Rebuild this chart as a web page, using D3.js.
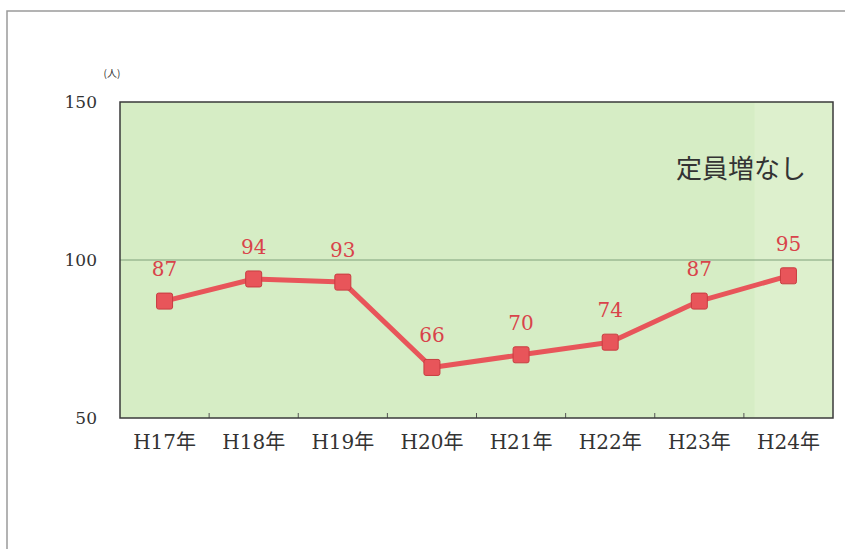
<!DOCTYPE html>
<html><head><meta charset="utf-8">
<script src="https://cdn.jsdelivr.net/npm/d3@7"></script>
<style>body{margin:0;background:#fff}svg{display:block}</style>
</head><body>
<svg id="c" width="845" height="550"></svg>
<script>
const categories = ["H17年","H18年","H19年","H20年","H21年","H22年","H23年","H24年"];
const values = [87,94,93,66,70,74,87,95];
const yTicks = [50,100,150];
const unitLabel = "(人)";
const note = "定員増なし";

const svg = d3.select("#c");
const m = {l:120, t:102, r:833, b:418};
const x = d3.scaleBand().domain(categories).range([m.l, m.r]);
const y = d3.scaleLinear().domain([50,150]).range([m.b, m.t]);
const serif = "'DejaVu Serif', 'Noto Sans CJK JP', serif";

// outer frame
svg.append("path").attr("d","M7,549 L7,11 L845,11").attr("fill","none").attr("stroke","#9a9a9a").attr("stroke-width",1.5);

// plot background
svg.append("rect").attr("x",m.l).attr("y",m.t).attr("width",m.r-m.l).attr("height",m.b-m.t).attr("fill","#d6edc5");
const x2 = x("H24年") + x.bandwidth()*0.12;
svg.append("rect").attr("x",x2).attr("y",m.t).attr("width",m.r-x2).attr("height",m.b-m.t).attr("fill","#ddf0cd");

// gridline at 100
svg.append("line").attr("x1",m.l).attr("x2",m.r).attr("y1",y(100)).attr("y2",y(100)).attr("stroke","#7fa07a").attr("stroke-width",1);

// y axis
const yAxis = d3.axisLeft(y).tickValues(yTicks).tickSize(0).tickPadding(23);
const ga = svg.append("g").attr("transform",`translate(${m.l},0)`).call(yAxis);
ga.select(".domain").remove();
ga.attr("font-family",serif).attr("font-size",17);
ga.selectAll("text").style("font-family",serif).style("font-size","17px").attr("fill","#333");

// x axis
const xAxis = d3.axisBottom(x).tickSize(0).tickPadding(13);
const gx = svg.append("g").attr("transform",`translate(0,${m.b})`).call(xAxis);
gx.select(".domain").remove();
gx.attr("font-family",serif).attr("font-size",20);
gx.selectAll("text").style("font-family",serif).style("font-size","20px").attr("fill","#333").attr("dy","0.9em");
// band separator ticks
svg.append("g").selectAll("line").data(categories.slice(1)).join("line")
  .attr("x1",d=>x(d)).attr("x2",d=>x(d)).attr("y1",m.b-5).attr("y2",m.b).attr("stroke","#555");

// plot border
svg.append("rect").attr("x",m.l).attr("y",m.t).attr("width",m.r-m.l).attr("height",m.b-m.t).attr("fill","none").attr("stroke","#3a3a3a").attr("stroke-width",1.5);

// unit label
svg.append("text").attr("x",112).attr("y",77).attr("text-anchor","middle").style("font-family","'Noto Sans CJK JP', sans-serif").style("font-size","10px").attr("fill","#333").text(unitLabel);

// note
svg.append("text").attr("x",806).attr("y",178).attr("text-anchor","end").style("font-family","'Noto Sans CJK JP', sans-serif").style("font-size","26px").attr("fill","#333").text(note);

// line
const cx = d=>x(d)+x.bandwidth()/2;
const line = d3.line().x((d,i)=>cx(categories[i])).y(d=>y(d));
svg.append("path").datum(values).attr("d",line).attr("fill","none").attr("stroke","#e8555a").attr("stroke-width",5).attr("stroke-linejoin","round");

// markers
svg.append("g").selectAll("rect").data(values).join("rect")
  .attr("x",(d,i)=>cx(categories[i])-8).attr("y",d=>y(d)-8).attr("width",16).attr("height",16).attr("rx",2)
  .attr("fill","#e8555a").attr("stroke","#c83c40").attr("stroke-width",1);

// labels
svg.append("g").selectAll("text").data(values).join("text")
  .attr("x",(d,i)=>cx(categories[i])).attr("y",d=>y(d)-25).attr("text-anchor","middle")
  .style("font-family",serif).style("font-size","20px").style("font-weight","normal").attr("fill","#d9434a").text(d=>d);
</script>
</body></html>
